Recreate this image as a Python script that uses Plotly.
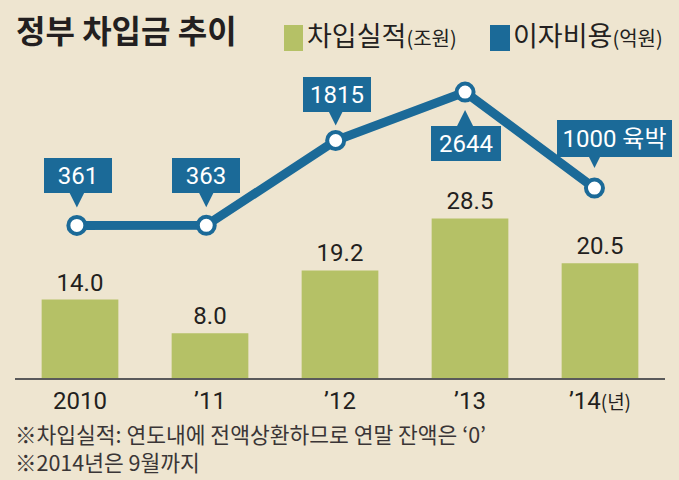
import plotly.graph_objects as go

# ---------------- data ----------------
categories = ["2010", "2011", "2012", "2013", "2014"]
tick_labels = ["2010", "’11", "’12", "’13",
               "’14<span style='font-size:19px;font-family:Noto Sans CJK KR'>(년)</span>"]
borrowing = [14.0, 8.0, 19.2, 28.5, 20.5]          # 차입실적 (조원)
interest = [361, 363, 1815, 2644, 1000]            # 이자비용 (억원)
interest_labels = ["361", "363", "1815", "2644", "1000 육박"]

title_text = "정부 차입금 추이"
legend_names = ["차입실적", "이자비용"]
legend_units = ["(조원)", "(억원)"]
notes = ["※차입실적: 연도내에 전액상환하므로 연말 잔액은 ‘0’",
         "※2014년은 9월까지"]

# ---------------- style ----------------
BG = "#EEE5D0"
GREEN = "#B5C166"
BLUE = "#1B6A98"
DARK = "#231F20"
NUM_FONT = "Roboto, Noto Sans CJK KR, sans-serif"
KR_FONT = "Noto Sans CJK KR, sans-serif"

W, H = 679, 480
ML, MR, MT, MB = 15, 14, 60, 102
PW, PH = W - ML - MR, H - MT - MB


def px(xp):
    return (xp - ML) / PW


def py(yp):
    return (H - MB - yp) / PH


fig = go.Figure()

fig.add_trace(go.Bar(
    x=categories, y=borrowing,
    marker=dict(color=GREEN, line=dict(width=0)),
    width=0.59,
    texttemplate="%{y:.1f}", textposition="outside",
    textfont=dict(family=NUM_FONT, size=24, color=DARK),
    cliponaxis=False,
    xaxis="x", yaxis="y",
    hoverinfo="skip",
))

fig.add_trace(go.Scatter(
    x=categories, y=interest,
    mode="lines+markers",
    line=dict(color=BLUE, width=9),
    marker=dict(size=17, color="white", line=dict(color=BLUE, width=4)),
    xaxis="x2", yaxis="y2",
    cliponaxis=False,
    hoverinfo="skip",
))

annotations = []
# callout boxes: (xshift, yshift, width, height, arrow ay, standoff)
callout_cfg = [
    (1, 50, 68, 35, -34, 18),
    (0, 50, 68, 35, -34, 18),
    (1, 46, 68, 35, -30, 15),
    (1, -51, 70, 35, 35, 18),
    (20, 50, 115, 37, -33, 20),
]
for idx, (val, lab, (xs, ys, bw, bh, ay, so)) in enumerate(zip(interest, interest_labels, callout_cfg)):
    annotations.append(dict(
        x=idx, y=val, xref="x2", yref="y2", text="", showarrow=True,
        ax=0, ay=ay, arrowhead=2, arrowsize=1.8, arrowwidth=2,
        arrowcolor=BLUE, standoff=so,
    ))
    annotations.append(dict(
        x=idx, y=val, xref="x2", yref="y2", text=lab, showarrow=False,
        xshift=xs, yshift=ys, width=bw, height=bh, bgcolor=BLUE,
        borderpad=0, borderwidth=0, align="center", valign="middle",
        font=dict(family=NUM_FONT, size=24, color="white"),
    ))

# title
annotations.append(dict(
    x=px(14), y=py(29), xref="paper", yref="paper", xanchor="left", yanchor="middle",
    text="<b>" + title_text + "</b>", showarrow=False,
    font=dict(family=KR_FONT, size=32, color=DARK),
))
# legend texts
for xt, name, unit in zip([305, 511], legend_names, legend_units):
    annotations.append(dict(
        x=px(xt), y=py(34), xref="paper", yref="paper", xanchor="left", yanchor="middle",
        text=name + "<span style='font-size:20px'>" + unit + "</span>", showarrow=False,
        font=dict(family=KR_FONT, size=27, color=DARK),
    ))
# notes
for yt, note in zip([433, 461], notes):
    annotations.append(dict(
        x=px(13), y=py(yt), xref="paper", yref="paper", xanchor="left", yanchor="middle",
        text=note, showarrow=False,
        font=dict(family=KR_FONT, size=21.5, color="#3a3536"),
    ))

shapes = [
    dict(type="rect", xref="paper", yref="paper", x0=px(284), x1=px(303), y0=py(51), y1=py(25),
         fillcolor=GREEN, line=dict(width=0)),
    dict(type="rect", xref="paper", yref="paper", x0=px(490), x1=px(510), y0=py(51), y1=py(25),
         fillcolor=BLUE, line=dict(width=0)),
]

hidden = dict(showgrid=False, zeroline=False, showline=False, showticklabels=False, ticks="")

fig.update_layout(
    width=W, height=H,
    margin=dict(l=ML, r=MR, t=MT, b=MB),
    paper_bgcolor=BG, plot_bgcolor=BG,
    showlegend=False,
    annotations=annotations,
    shapes=shapes,
    xaxis=dict(
        type="category", range=[-0.5, 4.5],
        tickvals=categories, ticktext=tick_labels,
        tickfont=dict(family=NUM_FONT, size=24, color=DARK),
        showline=True, linecolor="#5a5a5a", linewidth=2,
        ticks="", showgrid=False, zeroline=False,
        ticklabelstandoff=0,
    ),
    xaxis2=dict(type="category", range=[-0.478, 4.545], overlaying="x",
                anchor="y2", **hidden),
    yaxis=dict(range=[0, PH / 5.6], **hidden),
    yaxis2=dict(range=[-2251, 3193], overlaying="y", anchor="x2", **hidden),
)

fig.write_html("out.html", config={"displayModeBar": False},
               post_script="document.body.style.margin='0';")
